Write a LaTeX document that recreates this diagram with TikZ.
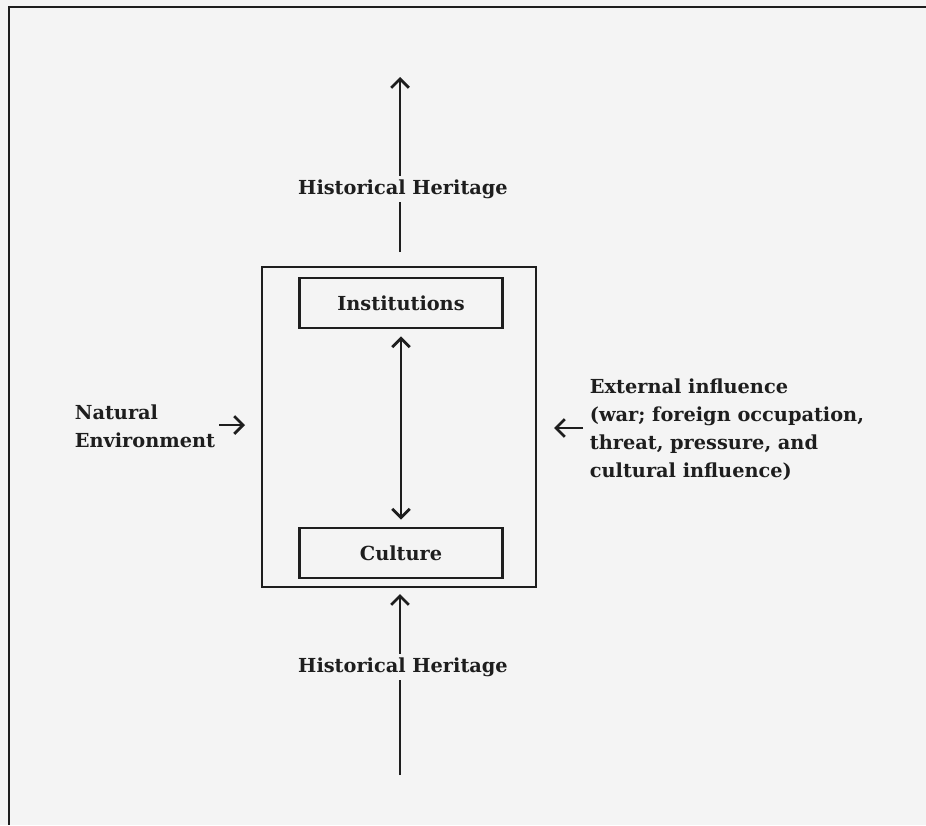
\documentclass[tikz,border=0pt]{standalone}
\usepackage{fontspec}
\setmainfont{DejaVu Serif}
\usepackage{tikz}
\usetikzlibrary{arrows.meta}
\definecolor{paper}{HTML}{F4F4F4}
\definecolor{ink}{HTML}{1E1E1E}
\def\px{0.02}

\begin{document}
\begin{tikzpicture}[x=\px cm, y=-\px cm, >={Straight Barb[length=5pt,width=10pt]},
  txt/.style={font=\bfseries\fontsize{11}{15.9}\selectfont, text=ink, inner sep=2pt},
  inbox/.style={txt, draw=ink, line width=1.5pt, minimum width=4.06cm, minimum height=1cm},
  shaft/.style={draw=ink, line width=1.6pt}]
% page
\fill[paper] (0,0) rectangle (926,825);
\useasboundingbox (0,0) rectangle (926,825);

\coordinate (TL) at (9,7);
\coordinate (TR) at (926,7);
\coordinate (BL) at (9,825);
\draw[ink, line width=1.4pt] (TR) -- (TL) -- (BL);

% society box

\coordinate (S1) at (262,267);
\coordinate (S2) at (536,587);
\draw[ink, line width=1.2pt] (S1) rectangle (S2);

\node[inbox] (inst) at (401,303) {Institutions};
\node[inbox] (cult) at (401,553) {Culture};
\draw[shaft, <->, shorten <=4pt, shorten >=4pt] (inst) -- (cult);

% historical heritage

\coordinate (topbase) at (400,252);
\coordinate (toptip) at (400,77);
\draw[shaft, ->] (topbase) -- (toptip);
\node[txt, fill=paper] (histtop) at (403,189) {Historical Heritage};

\coordinate (botbase) at (400,775);
\coordinate (bottip) at (400,594);
\draw[shaft, ->] (botbase) -- (bottip);
\node[txt, fill=paper] (histbot) at (403,667) {Historical Heritage};

% side influences

\node[txt, anchor=west, align=left] (natenv) at (71,426) {Natural\\Environment};
\coordinate (natA) at (219,425);
\coordinate (natB) at (245,425);
\draw[shaft, ->] (natA) -- (natB);

\node[txt, anchor=west, align=left] (extinf) at (586,430) {External influence\\(war; foreign occupation,\\threat, pressure, and\\cultural influence)};
\coordinate (extA) at (583,428);
\coordinate (extB) at (554,428);
\draw[shaft, ->] (extA) -- (extB);

\end{tikzpicture}
\end{document}
